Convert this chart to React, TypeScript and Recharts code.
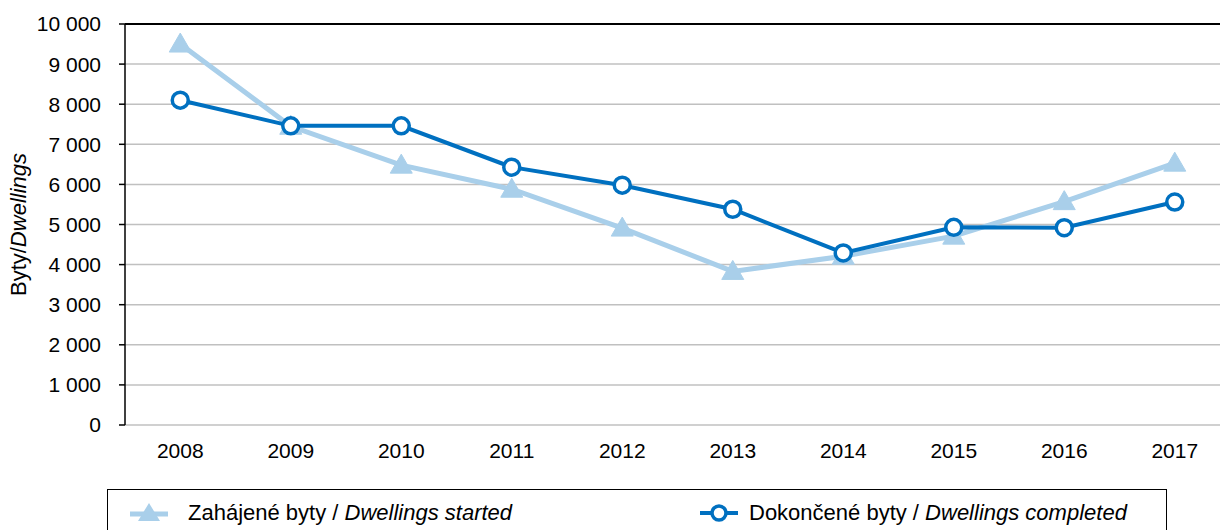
import React from 'react'
import { LineChart, Line, XAxis, YAxis, CartesianGrid, ReferenceLine, Legend, Label } from 'recharts'

const years = ['2008', '2009', '2010', '2011', '2012', '2013', '2014', '2015', '2016', '2017']
const started = [9500, 7450, 6480, 5880, 4910, 3830, 4210, 4710, 5570, 6530]
const completed = [8100, 7460, 7460, 6430, 5980, 5380, 4290, 4930, 4920, 5560]
const yTicks = [0, 1000, 2000, 3000, 4000, 5000, 6000, 7000, 8000, 9000, 10000]
const edgeTicks = [0, 1, 2, 3, 4, 5, 6, 7, 8, 9, 10]

const LIGHT = '#a9cfea'
const DARK = '#0070c0'
const FONT = '"Liberation Sans", Arial, sans-serif'
const FS = 21

const data = years.map((y, i) => ({ year: y, started: started[i], completed: completed[i] }))

const fmt = (v: number) => (v >= 1000 ? `${Math.floor(v / 1000)} ${String(v % 1000).padStart(3, '0')}` : String(v))

const Triangle = (props: any) => {
  const { cx, cy } = props
  if (cx == null || cy == null) return null
  return <polygon points={`${cx},${cy - 11} ${cx + 11},${cy + 8} ${cx - 11},${cy + 8}`} fill={LIGHT} stroke={LIGHT} strokeWidth={1} strokeLinejoin="round" />
}

const Ring = (props: any) => {
  const { cx, cy } = props
  if (cx == null || cy == null) return null
  return <circle cx={cx} cy={cy} r={8} fill="#fff" stroke={DARK} strokeWidth={3.5} />
}

const YLabel = (props: any) => {
  const vb = props.viewBox || { x: 0, y: 0, width: 0, height: 0 }
  const x = vb.x + 18
  const y = vb.y + vb.height / 2
  return (
    <text x={x} y={y} transform={`rotate(-90 ${x} ${y})`} textAnchor="middle" dominantBaseline="central"
      fontFamily={FONT} fontSize={22} fill="#000">
      Byty/<tspan fontStyle="italic">Dwellings</tspan>
    </text>
  )
}

const LegendBox = () => (
  <div style={{
    position: 'absolute', left: 107, top: 489, width: 1060, height: 60, border: '1.5px solid #000',
    boxSizing: 'border-box', fontFamily: FONT, fontSize: 22, color: '#000', background: '#fff',
  }}>
    <div style={{ position: 'absolute', left: 20, top: 10, display: 'flex', alignItems: 'center' }}>
      <svg width={42} height={26}>
        <line x1={2} y1={14} x2={40} y2={14} stroke={LIGHT} strokeWidth={5} />
        <polygon points="21,3 32,21 10,21" fill={LIGHT} />
      </svg>
      <span style={{ marginLeft: 18 }}>Zahájené byty / <i>Dwellings started</i></span>
    </div>
    <div style={{ position: 'absolute', left: 590, top: 10, display: 'flex', alignItems: 'center' }}>
      <svg width={42} height={26}>
        <line x1={2} y1={13} x2={40} y2={13} stroke={DARK} strokeWidth={4} />
        <circle cx={21} cy={13} r={7} fill="#fff" stroke={DARK} strokeWidth={3.5} />
      </svg>
      <span style={{ marginLeft: 9 }}>Dokončené byty / <i>Dwellings completed</i></span>
    </div>
  </div>
)

export default function App() {
  return (
    <div style={{ position: 'absolute', left: 0, top: 0, width: 1220, height: 530, overflow: 'hidden', background: '#fff' }}>
      <LineChart width={1240} height={530} data={data} margin={{ top: 24, right: 10, bottom: 65, left: 0 }}>
        <CartesianGrid vertical={false} stroke="#c0c0c0" strokeWidth={1.5} />
        <XAxis xAxisId="edge" type="number" domain={[0, 10]} ticks={edgeTicks} height={0}
          tickFormatter={() => ''} axisLine={{ stroke: '#000', strokeWidth: 1.5 }}
          tickLine={{ stroke: '#000', strokeWidth: 1.5 }} tickSize={6} allowDataOverflow />
        <XAxis xAxisId="cat" dataKey="year" scale="band" height={40} axisLine={false} tickLine={false}
          tick={{ fill: '#000', fontSize: FS, fontFamily: FONT }} tickMargin={12} />
        <YAxis width={125} domain={[0, 10000]} ticks={yTicks} tickFormatter={fmt} interval={0}
          axisLine={{ stroke: '#000', strokeWidth: 1.5 }} tickLine={{ stroke: '#000', strokeWidth: 1.5 }}
          tickSize={6} tickMargin={18} tick={{ fill: '#000', fontSize: FS, fontFamily: FONT }}>
          <Label content={<YLabel />} />
        </YAxis>
        <ReferenceLine y={10000} xAxisId="cat" stroke="#000" strokeWidth={2} />
        <Line xAxisId="cat" type="linear" dataKey="started" stroke={LIGHT} strokeWidth={5}
          dot={<Triangle />} activeDot={false} isAnimationActive={false} />
        <Line xAxisId="cat" type="linear" dataKey="completed" stroke={DARK} strokeWidth={4}
          dot={<Ring />} activeDot={false} isAnimationActive={false} />
        <Legend content={() => null} />
      </LineChart>
      <LegendBox />
    </div>
  )
}
